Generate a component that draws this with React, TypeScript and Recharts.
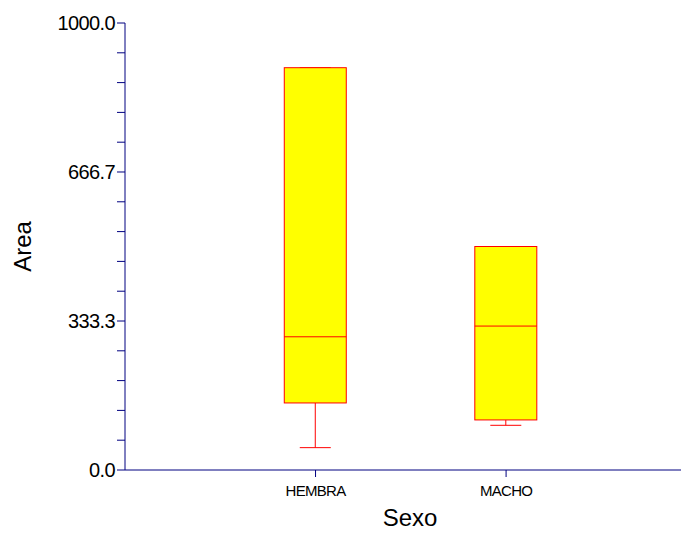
import { ComposedChart, Bar, XAxis, YAxis, Label } from "recharts";

// box plot summary per group
const groups = ["HEMBRA", "MACHO"];
const groupPos = [1, 2];
const whiskerLow = [50, 100];
const q1 = [150, 112];
const median = [298, 322];
const q3 = [900, 500];
const whiskerHigh = [900, 500];

const yMajorTicks = [0, 333.3, 666.7, 1000];

// four minor ticks between each pair of major ticks
const yTicks: number[] = [];
yMajorTicks.forEach((t, i) => {
  yTicks.push(t);
  const next = yMajorTicks[i + 1];
  if (next !== undefined) {
    for (let k = 1; k < 5; k++) yTicks.push(t + ((next - t) * k) / 5);
  }
});

const data = groups.map((name, i) => ({
  name,
  pos: groupPos[i],
  low: whiskerLow[i],
  q1: q1[i],
  median: median[i],
  q3: q3[i],
  high: whiskerHigh[i],
}));

const AXIS = "#000080";
const FONT = "'Liberation Sans', Arial, sans-serif";

// bar spans low..high; the rest is placed with the same pixel scale
const BoxShape = (props: any) => {
  const { x, y, width, height, payload } = props;
  const { low, q1, median, q3, high } = payload;
  const ppu = height / (high - low);
  const py = (v: number) => y + (high - v) * ppu;
  const cx = x + width / 2;
  const cap = width / 4;
  return (
    <g stroke="#FF0000" strokeWidth={1}>
      <line x1={cx} x2={cx} y1={py(high)} y2={py(q3)} />
      <line x1={cx} x2={cx} y1={py(q1)} y2={py(low)} />
      <line x1={cx - cap} x2={cx + cap} y1={py(high)} y2={py(high)} />
      <line x1={cx - cap} x2={cx + cap} y1={py(low)} y2={py(low)} />
      <rect x={x} y={py(q3)} width={width} height={py(q1) - py(q3)} fill="#FFFF00" />
      <line x1={x} x2={x + width} y1={py(median)} y2={py(median)} />
    </g>
  );
};

const App = () => {
  return (
    <ComposedChart
      width={681}
      height={525}
      data={data}
      margin={{ top: 15, right: 0, left: 0, bottom: 0 }}
    >
      <XAxis
        type="number"
        dataKey="pos"
        domain={[0, 2.96]}
        ticks={groupPos}
        tickFormatter={(v: number) => groups[groupPos.indexOf(v)] ?? ""}
        height={63}
        stroke={AXIS}
        tickSize={7}
        tickMargin={8}
        tick={{ fill: "#000", fontSize: 15, fontFamily: FONT, letterSpacing: -0.7 }}
      >
        <Label
          content={({ viewBox }: any) => (
            <text
              x={viewBox.x + 285}
              y={viewBox.y + 56}
              textAnchor="middle"
              fontSize={24}
              fontFamily={FONT}
              fill="#000"
            >
              Sexo
            </text>
          )}
        />
      </XAxis>
      <YAxis
        type="number"
        domain={[0, 1000]}
        ticks={yTicks}
        interval={0}
        tickFormatter={(v: number) => (yMajorTicks.includes(v) ? v.toFixed(1) : "")}
        width={117}
        stroke={AXIS}
        tickSize={8}
        tickMargin={2}
        tick={{ fill: "#000", fontSize: 20, fontFamily: FONT, letterSpacing: -0.6 }}
      >
        <Label
          content={({ viewBox }: any) => {
            const lx = viewBox.x + 14;
            const ly = viewBox.y + viewBox.height / 2;
            return (
              <text
                x={lx}
                y={ly}
                transform={`rotate(-90, ${lx}, ${ly})`}
                textAnchor="middle"
                dominantBaseline="central"
                fontSize={24}
                fontFamily={FONT}
                fill="#000"
              >
                Area
              </text>
            );
          }}
        />
      </YAxis>
      <Bar
        dataKey={(d: any) => [d.low, d.high]}
        barSize={62}
        shape={BoxShape}
        isAnimationActive={false}
      />
    </ComposedChart>
  );
};

export default App;
